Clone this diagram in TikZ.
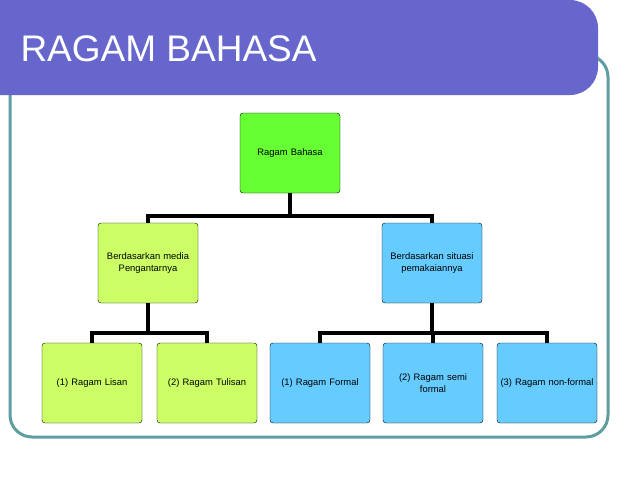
\documentclass[tikz,border=0pt]{standalone}
\usepackage{fontspec}
\setmainfont{Liberation Sans}
\usetikzlibrary{calc}
\definecolor{titleblue}{HTML}{6666CC}
\definecolor{frameteal}{HTML}{5F9EA0}
\definecolor{rootgreen}{HTML}{66FF33}
\definecolor{medialime}{HTML}{CCFF66}
\definecolor{situblue}{HTML}{66CCFF}
\begin{document}
\begin{tikzpicture}[x=1pt,y=-1pt,font=\fontsize{9.4}{12}\selectfont]
    \tikzstyle{box}=[draw,rounded corners=3,minimum width=100,minimum height=80,inner sep=0,align=center,text width=100]
    \tikzstyle{link}=[line width=3.4,black]
    \useasboundingbox (0,0) rectangle (638,479);
    % frame and title bar
    \draw[frameteal,line width=3,rounded corners=22] (10,55) rectangle (608,437);
    \fill[titleblue,rounded corners=28] (-30,0) rectangle (598,95);
    \fill[titleblue] (-1,0) rectangle (40,95);
    \node[white,anchor=west,font=\fontsize{37}{40}\selectfont] (title) at (17,49) {RAGAM BAHASA};
    % boxes
    \node(root)[box,fill=rootgreen] at (290,153) {Ragam Bahasa};
    \node(media)[box,fill=medialime] at (148,263) {Berdasarkan media\\Pengantarnya};
    \node(situ)[box,fill=situblue] at (432,263) {Berdasarkan situasi\\pemakaiannya};
    \node(lisan)[box,fill=medialime] at (92,383) {(1) Ragam Lisan};
    \node(tulis)[box,fill=medialime] at (207,383) {(2) Ragam Tulisan};
    \node(formal)[box,fill=situblue] at (320,383) {(1) Ragam Formal};
    \node(semi)[box,fill=situblue] at (433,383) {(2) Ragam semi\\formal};
    \node(nonf)[box,fill=situblue] at (547,383) {(3) Ragam non-formal};
    % connectors
    \coordinate (j0) at (290,216);
    \coordinate (j1) at (148,333);
    \coordinate (j2) at (432,333);
    \draw[link] (root) -- (j0);
    \draw[link] (j0) -| (media);
    \draw[link] (j0) -| (situ);
    \draw[link] (media) -- (j1);
    \draw[link] (j1) -| (lisan);
    \draw[link] (j1) -| (tulis);
    \draw[link] (situ) -- (j2);
    \draw[link] (j2) -| (formal);
    \draw[link] (j2) -| (semi);
    \draw[link] (j2) -| (nonf);
\end{tikzpicture}
\end{document}
